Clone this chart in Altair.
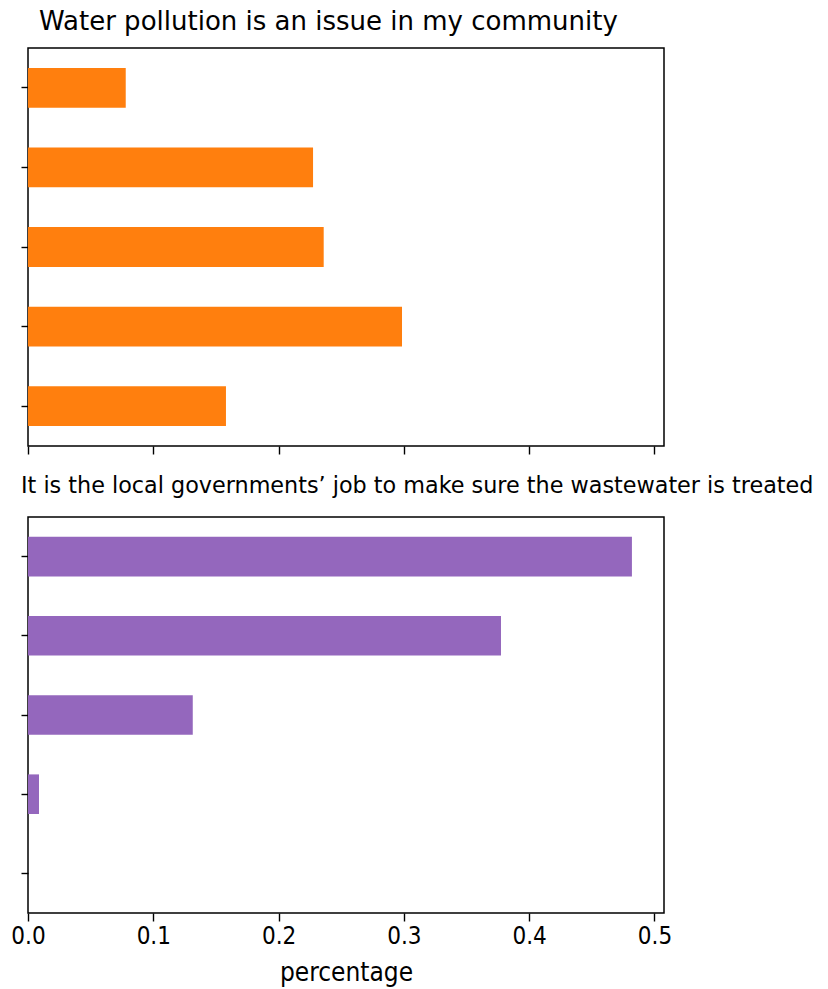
import altair as alt
import pandas as pd

# Response categories, listed top to bottom (labels are hidden in the reference)
categories = ["Strongly agree", "Agree", "Neutral", "Disagree", "Strongly disagree"]

# Share of responses per category
pollution_values = [0.078, 0.2275, 0.236, 0.2985, 0.158]
government_values = [0.482, 0.3775, 0.1315, 0.0088, 0.0]

x_ticks = [0.0, 0.1, 0.2, 0.3, 0.4, 0.5]

title_top = "Water pollution is an issue in my community"
title_bottom = "It is the local governments\u2019 job to make sure the wastewater is treated"

TITLE_FONT = "DejaVu Sans"
AXIS_FONT = "DejaVu Sans Condensed"


def panel(values, color, title, title_size, title_dx, title_offset, height, show_labels):
    df = pd.DataFrame({"response": categories, "percentage": values})
    x_axis = dict(
        values=x_ticks,
        format=".1f",
        grid=False,
        domain=False,
        tickColor="black",
        tickSize=8,
        tickWidth=1.4,
        labels=show_labels,
        labelFlush=False,
        labelFont=AXIS_FONT,
        labelFontSize=24,
        labelColor="black",
        labelPadding=3,
    )
    if show_labels:
        x_axis.update(title="percentage", titleFont=AXIS_FONT, titleFontSize=26,
                      titleFontWeight="normal", titleColor="black", titlePadding=11)
    else:
        x_axis.update(title="")
    return (
        alt.Chart(df)
        .mark_bar(color=color)
        .encode(
            x=alt.X("percentage:Q",
                    scale=alt.Scale(domain=[0, 0.5076], nice=False, zero=True),
                    axis=alt.Axis(**x_axis)),
            y=alt.Y("response:N", sort=categories,
                    scale=alt.Scale(paddingInner=0.5, paddingOuter=0.25),
                    axis=alt.Axis(labels=False, title="", domain=False,
                                  tickColor="black", tickSize=7, tickWidth=1.4)),
        )
        .properties(
            width=636,
            height=height,
            title=alt.TitleParams(
                text=title, anchor="start", font=TITLE_FONT, fontSize=title_size,
                fontWeight="normal", color="black", dx=title_dx, offset=title_offset,
                frame="group",
            ),
        )
    )


top = panel(pollution_values, "#ff7f0e", title_top, 26, 11, 13, 398, False)
bottom = panel(government_values, "#9467bd", title_bottom, 22.3, -7, 20, 396, True)

chart = (
    alt.vconcat(top, bottom, spacing=17)
    .properties(padding={"left": 10, "top": 8, "right": 5, "bottom": 5}, background="white")
    .configure_view(stroke="black", strokeWidth=1.5)
)

chart.save("out.html", embed_options={"renderer": "svg", "actions": False})
